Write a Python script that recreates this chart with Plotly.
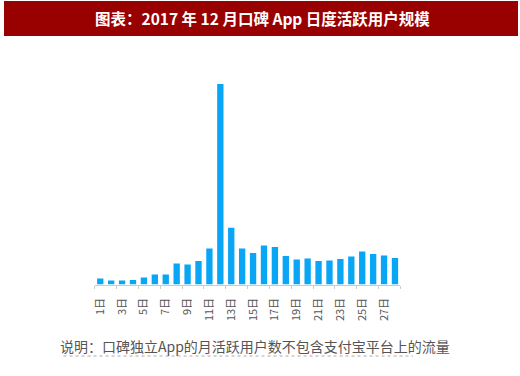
import plotly.graph_objects as go

days = [f"{d}日" for d in range(1, 29)]
dau = [6, 4, 4, 4.5, 7, 10, 10, 21, 20, 23.5, 36, 200, 56.5, 36, 31.5, 39, 37.5,
       28.5, 25, 26, 23.5, 24, 25.5, 28, 33, 30.5, 29, 26.5]

title_text = "图表：2017 年 12 月口碑 App 日度活跃用户规模"
note_text = "说明：口碑独立App的月活跃用户数不包含支付宝平台上的流量"

W, H = 520, 376

fig = go.Figure()
fig.add_trace(go.Bar(x=days, y=dau, marker=dict(color="#0AA6F6", line=dict(width=0)),
                     hoverinfo="skip"))

fig.update_layout(
    width=W, height=H,
    margin=dict(l=0, r=0, t=0, b=0),
    paper_bgcolor="white", plot_bgcolor="white",
    showlegend=False,
    bargap=0.42,
    xaxis=dict(
        domain=[91.5 / W, 399.5 / W],
        type="category",
        tickmode="linear", tick0=0, dtick=2,
        tickson="boundaries",
        ticks="outside", ticklen=3, tickcolor="#cccccc", tickwidth=1,
        showline=True, linecolor="#cccccc", linewidth=1,
        showgrid=False,
        tickangle=-90,
        ticklabelstandoff=8,
        tickfont=dict(family="Noto Sans CJK SC", size=11, color="#555555"),
    ),
    yaxis=dict(
        domain=[(H - 284.5) / H, (H - 84) / H],
        range=[0, 200],
        visible=False,
        showgrid=False,
    ),
    shapes=[
        dict(type="rect", xref="paper", yref="paper", x0=0, x1=518 / W,
             y0=(H - 36) / H, y1=(H - 1) / H, fillcolor="#990000", line=dict(width=0), layer="below"),
        dict(type="line", xref="paper", yref="paper", x0=60 / W, x1=412 / W,
             y0=(H - 356) / H, y1=(H - 356) / H, line=dict(color="#aaaaaa", width=1, dash="dot")),
    ],
    annotations=[
        dict(text=title_text, xref="paper", yref="paper", x=260 / W, y=(H - 18.5) / H,
             xanchor="center", yanchor="middle", showarrow=False,
             font=dict(family="Noto Sans CJK SC", size=15.5, color="white", weight="bold")),
        dict(text=note_text, xref="paper", yref="paper", x=54 / W, y=(H - 346) / H,
             xanchor="left", yanchor="middle", showarrow=False,
             font=dict(family="Noto Sans CJK SC", size=14, color="#555555")),
    ],
)

fig.write_html("out.html", config={"displayModeBar": False, "staticPlot": True},
               post_script="document.body.style.margin='0';")
